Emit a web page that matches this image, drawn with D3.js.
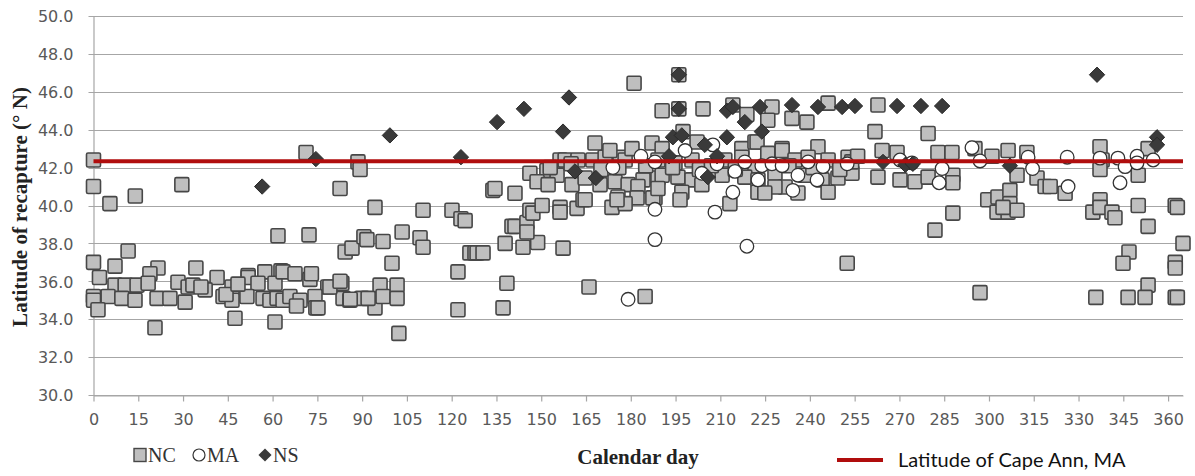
<!DOCTYPE html>
<html>
<head>
<meta charset="utf-8">
<script src="https://cdn.jsdelivr.net/npm/d3@7"></script>
<style>
  html, body { margin: 0; padding: 0; background: #ffffff; }
  svg { display: block; }
</style>
</head>
<body>
<svg id="chart" width="1195" height="476"></svg>
<script>
// Recapture latitude by calendar day, three tagging groups
const xTicks = [0, 15, 30, 45, 60, 75, 90, 105, 120, 135, 150, 165, 180, 195, 210, 225, 240, 255, 270, 285, 300, 315, 330, 345, 360];
const yTicks = [30, 32, 34, 36, 38, 40, 42, 44, 46, 48, 50];
const capeAnnLat = 42.33;
const seriesNames = ["NC", "MA", "NS"];
const refLabel = "Latitude of Cape Ann, MA";

// NC-tagged fish: [calendar day, latitude]
const ncPoints = [
  [0,42.4],[0,41.0],[5.5,40.1],[14,40.5],[29.6,41.1],[71.2,42.8],[82.6,40.9],[88.6,42.3],[89.3,41.9],[94.3,39.9],
  [0,37.0],[11.6,37.6],[7.2,36.8],[2,36.2],[21.6,36.7],[18.9,36.4],[34.3,36.7],[41.4,36.2],[51.8,36.3],[57.4,36.5],[62.8,36.55],
  [7.2,35.8],[10.6,35.8],[14.6,35.8],[18.3,35.9],[28.3,35.95],[31.7,35.7],[33.3,35.8],[37.4,35.55],[46.4,35.7],[51.8,36.2],[55.1,35.9],[60.8,35.9],
  [0,35.2],[0,35.0],[4.9,35.2],[9.5,35.1],[13.9,35.0],[21.3,35.1],[25.6,35.1],[30.7,34.9],[43.4,35.2],[46.4,35.0],[51.4,35.2],[56.8,35.1],[59.1,35.0],[61.5,35.1],[63.5,35.0],
  [1.5,34.5],[20.6,33.55],[47.4,34.05],[60.8,33.85],
  [61.8,38.4],[72.2,38.45],[84.3,37.55],[86.6,37.75],[90.6,38.35],[91.6,38.2],[97,38.1],[103.4,38.6],[109.4,38.3],[110.4,37.8],
  [63.5,36.5],[67.5,36.4],[72.5,36.1],[78.5,35.7],[83.2,35.9],[96,35.8],[101.7,35.8],
  [65.8,35.2],[69.2,35.0],[74.2,35.2],[74.5,34.6],[83.6,35.1],[85.9,35.0],[89.9,35.1],[94.3,34.6],[97,35.2],[101.7,35.1],
  [36,35.7],[44.4,35.3],[48.4,35.85],[73,36.4],[79.2,35.7],[82.6,36.0],[75.2,34.6],[68,34.7],[86,35.05],[92,35.1],
  [100,36.95],[102.3,33.25],[110.4,39.75],[120.1,39.75],[123.1,39.3],[122.1,36.5],[122.1,34.5],
  [124.5,39.2],[126.1,37.5],[127.8,37.5],[128.5,37.5],[130.5,37.5],
  [133.8,40.8],[134.5,40.9],[141.2,40.65],
  [137.9,38.0],[143.9,37.8],[148.8,38.05],[157.3,37.75],
  [140.2,38.9],[141.2,38.9],[145.2,39.1],[145.2,38.6],
  [146.2,39.75],[147.2,39.6],[150.3,40.0],[156.3,39.9],[156.3,39.65],[162,39.85],[164,40.3],[164.7,40.3],
  [146.2,41.7],[151.9,41.85],[155.3,41.6],[148.6,41.25],[152.3,41.1],[160.3,41.1],[164.7,41.45],[169.7,41.1],[174.7,41.25],[179.1,41.1],[184.1,41.35],[189.1,41.45],[182.4,41.0],
  [156.3,42.4],[158,42.4],[162.3,42.4],[167.3,42.4],[171.4,42.55],[176.4,42.55],[178.1,42.4],
  [168,43.3],[173,42.9],[180.4,43.0],[187.1,43.3],[190.5,43.0],
  [175.7,40.45],[182.1,40.4],[188.1,40.4],[173.7,39.9],[178.1,40.1],[175.4,40.3],[187.4,40.4],
  [181.1,46.45],[190.5,45.0],[196.1,46.9],[196.1,45.1],[204.2,45.1],[214.2,45.3],[227.3,45.2],[246.1,45.4],
  [218.9,44.8],[225.9,44.5],[234,44.6],[239,44.4],
  [197.5,43.9],[202.2,43.35],[217.2,43.0],[221.6,43.35],[222.3,43.35],[230.7,43.0],[242.7,43.1],
  [138.5,35.9],[166,35.7],[184.8,35.2],[137.2,34.6],
  [189.1,42.4],[194.8,42.25],[200.5,42.4],[211.5,42.4],[217.2,42.55],[221.6,42.0],[225.9,42.75],[230.7,42.9],[235,42.4],[239.4,42.55],[246.1,42.4],[252.8,42.55],
  [190.5,41.6],[195.8,41.5],[200.5,41.35],[210.6,41.6],[218.2,41.5],[222.6,41.35],[228.3,41.7],[231.7,40.98],[238.4,41.6],[244.1,41.35],[249.4,41.45],[254.1,41.7],
  [189.1,40.9],[197.1,40.7],[203.8,41.1],[222.6,40.7],[228.3,40.98],[236,40.66],[246.1,40.7],
  [196.5,40.3],[213.2,40.1],[224.9,40.66],
  [153,42.0],[160,42.2],[170,41.9],[176,42.0],[185,42.1],[194,42.0],[203,41.9],[207,42.1],[215,41.9],[233,42.1],[241,42.0],[250,41.9],
  [252.5,36.95],[254,42.3],[256,42.6],
  [261.8,43.9],[262.8,45.3],[279.6,43.8],
  [264.2,42.9],[269.2,42.8],[282.9,42.8],[287.6,42.8],[295.3,43.0],[301,42.6],[306.4,42.9],[312.7,42.8],
  [262.8,41.5],[270.2,41.35],[275.2,41.25],[279.6,41.5],[287.9,41.6],[287.9,41.2],[309.4,41.6],[316.1,41.45],[318.8,41.0],[320.5,41.0],[325.5,40.65],
  [299.6,40.3],[303,40.45],[302.7,39.65],[307,40.8],[307,40.1],[306.4,39.65],[309.4,39.75],[304.7,39.9],
  [287.9,39.6],[281.9,38.7],[297,35.4],
  [337.2,43.1],[337.9,42.4],[337.2,41.9],[353.3,43.0],[350,41.6],
  [337.2,40.3],[334.8,39.65],[337.2,39.9],[341.2,39.65],[342.2,39.35],[350,40.0],[353.3,38.9],[362.4,40.0],[363.1,39.9],
  [365,38.0],[346.9,37.55],[344.9,36.95],[362.4,37.0],[362.4,36.7],
  [353.3,35.8],[335.8,35.15],[346.6,35.15],[352.3,35.15],[362.4,35.15],[363.1,35.15]
];

// MA-tagged fish
const maPoints = [
  [174,42.0],[179.1,35.05],[183.4,42.6],[188.1,42.3],[188.1,39.8],[188.1,38.2],[198.2,42.9],[203.8,41.7],[207.5,43.2],[208.2,39.65],
  [208.9,42.2],[214.2,40.7],[214.9,41.8],[218.2,42.3],[218.9,37.85],[222.6,41.35],[223.9,42.1],[227.3,42.2],[230.7,42.1],[234.3,40.8],
  [236,41.6],[239.4,42.3],[242.4,41.35],[244.4,42.05],[252.5,42.2],[270.2,42.4],[274.2,42.25],[283.3,41.2],[284.3,41.95],[294.3,43.05],
  [297,42.35],[313.1,42.55],[314.6,41.95],[326.2,42.55],[326.5,41.0],[337.2,42.5],[343.2,42.5],[343.9,41.2],[345.6,42.05],[349.6,42.6],
  [349.6,42.25],[355,42.4]
];

// NS-tagged fish
const nsPoints = [
  [56.5,41.0],[74.5,42.45],[99.3,43.7],[123.1,42.55],[135.2,44.4],[144.2,45.1],[157.3,43.9],[159.3,45.7],[161.3,41.8],[168.3,41.45],
  [192.8,42.6],[194.1,43.6],[196.1,46.9],[196.1,45.1],[197.1,43.7],[204.8,43.2],[205.8,41.5],[208.9,42.6],[212.2,45.0],[212.2,43.6],
  [214.2,45.2],[218.2,44.4],[223.3,45.2],[223.9,43.9],[234,45.3],[242.7,45.2],[250.8,45.2],[255.1,45.25],[264.5,42.3],[269.2,45.25],
  [272,42.15],[274.5,42.2],[277.2,45.25],[284.3,45.25],[307,42.1],[336.2,46.9],[356.3,43.6],[356.3,43.2]
];

const svg = d3.select("#chart");
const plot = { left: 93.5, right: 1183, top: 16, bottom: 395 };

const x = d3.scaleLinear().domain([0, 365]).range([plot.left, plot.right]);
const y = d3.scaleLinear().domain([30, 50]).range([plot.bottom, plot.top]);

const gridColor = "#a6a6a6";
const tickFont = "'DejaVu Sans', Verdana, sans-serif";
const serif = "'Liberation Serif', 'Times New Roman', serif";

// horizontal gridlines
svg.append("g")
  .selectAll("line")
  .data(yTicks)
  .join("line")
  .attr("x1", plot.left - 5)
  .attr("x2", plot.right)
  .attr("y1", d => Math.round(y(d)) + 0.5)
  .attr("y2", d => Math.round(y(d)) + 0.5)
  .attr("stroke", gridColor)
  .attr("stroke-width", 1.2);

// y axis
const yAxis = svg.append("g")
  .attr("transform", `translate(${plot.left},0)`)
  .call(d3.axisLeft(y).tickValues(yTicks).tickFormat(d3.format(".1f")).tickSize(0).tickPadding(20));
yAxis.select(".domain").attr("stroke", gridColor).attr("stroke-width", 1.2);
yAxis.selectAll("text")
  .attr("font-family", tickFont)
  .attr("font-size", 16)
  .attr("fill", "#595959")
  .attr("dy", "0.36em");

// x axis
const xAxis = svg.append("g")
  .attr("transform", `translate(0,${Math.round(plot.bottom) + 0.5})`)
  .call(d3.axisBottom(x).tickValues(xTicks).tickFormat(d3.format("d")).tickSize(6).tickSizeOuter(0).tickPadding(12));
xAxis.select(".domain").attr("stroke", gridColor).attr("stroke-width", 1.2);
xAxis.selectAll(".tick line").attr("stroke", gridColor).attr("stroke-width", 1.2);
xAxis.selectAll("text")
  .attr("font-family", tickFont)
  .attr("font-size", 16)
  .attr("fill", "#595959");

// markers
const size = 14;
const marks = svg.append("g");

marks.append("g")
  .selectAll("rect")
  .data(ncPoints)
  .join("rect")
  .attr("x", d => x(d[0]) - size / 2)
  .attr("y", d => y(d[1]) - size / 2)
  .attr("width", size)
  .attr("height", size)
  .attr("rx", 1.5)
  .attr("fill", "#bfbfbf")
  .attr("stroke", "#474747")
  .attr("stroke-width", 1.6);

marks.append("g")
  .selectAll("circle")
  .data(maPoints)
  .join("circle")
  .attr("cx", d => x(d[0]))
  .attr("cy", d => y(d[1]))
  .attr("r", 6.8)
  .attr("fill", "#ffffff")
  .attr("stroke", "#333333")
  .attr("stroke-width", 1.3);

const diamond = d3.symbol().type(d3.symbolDiamond2).size(150);
marks.append("g")
  .selectAll("path")
  .data(nsPoints)
  .join("path")
  .attr("transform", d => `translate(${x(d[0])},${y(d[1])})`)
  .attr("d", diamond)
  .attr("fill", "#3a3a3a")
  .attr("stroke", "#2a2a2a")
  .attr("stroke-width", 1);

// reference latitude line
svg.append("line")
  .attr("x1", x(0))
  .attr("x2", x(365))
  .attr("y1", y(capeAnnLat))
  .attr("y2", y(capeAnnLat))
  .attr("stroke", "#b00d0d")
  .attr("stroke-width", 4);

// axis titles
svg.append("text")
  .attr("transform", `translate(27,${207}) rotate(-90)`)
  .attr("text-anchor", "middle")
  .attr("font-family", serif)
  .attr("font-weight", "bold")
  .attr("font-size", 21)
  .attr("fill", "#222")
  .text("Latitude of recapture (° N)");

svg.append("text")
  .attr("x", 638)
  .attr("y", 464)
  .attr("text-anchor", "middle")
  .attr("font-family", serif)
  .attr("font-weight", "bold")
  .attr("font-size", 21)
  .attr("fill", "#222")
  .text("Calendar day");

// series legend
const legend = svg.append("g").attr("font-family", serif).attr("font-size", 20).attr("fill", "#333");
const lgY = 455;
legend.append("rect").attr("x", 134).attr("y", lgY - 6.5).attr("width", 12).attr("height", 13)
  .attr("fill", "#bfbfbf").attr("stroke", "#474747").attr("stroke-width", 1.4);
legend.append("text").attr("x", 148).attr("y", lgY + 7).text(seriesNames[0]);
legend.append("circle").attr("cx", 199).attr("cy", lgY).attr("r", 6)
  .attr("fill", "#fff").attr("stroke", "#333").attr("stroke-width", 1.2);
legend.append("text").attr("x", 207).attr("y", lgY + 7).text(seriesNames[1]);
legend.append("path").attr("transform", `translate(265,${lgY})`)
  .attr("d", d3.symbol().type(d3.symbolDiamond2).size(110))
  .attr("fill", "#3a3a3a");
legend.append("text").attr("x", 273).attr("y", lgY + 7).text(seriesNames[2]);

// reference line legend
svg.append("line")
  .attr("x1", 837).attr("x2", 883)
  .attr("y1", 460).attr("y2", 460)
  .attr("stroke", "#b00d0d").attr("stroke-width", 4);
svg.append("text")
  .attr("x", 898)
  .attr("y", 467)
  .attr("font-family", "Lato, 'Open Sans', sans-serif")
  .attr("font-size", 20)
  .attr("fill", "#111")
  .text(refLabel);
</script>
</body>
</html>
